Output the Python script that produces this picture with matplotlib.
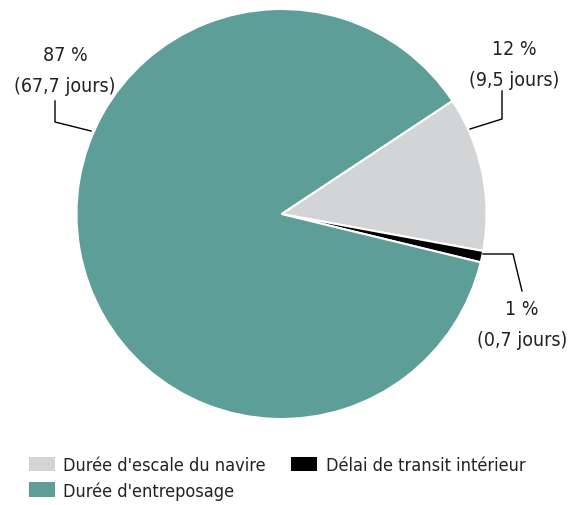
import matplotlib.pyplot as plt
from matplotlib.patches import Patch

plt.rcParams['font.family'] = ['DejaVu Sans']
plt.rcParams['font.stretch'] = 'condensed'

labels = ["Durée d'escale du navire", "Délai de transit intérieur", "Durée d'entreposage"]
jours = [9.5, 0.7, 67.7]
pct_labels = ["12 %\n(9,5 jours)", "1 %\n(0,7 jours)", "87 %\n(67,7 jours)"]
colors = ['#D3D4D6', '#000000', '#5E9E98']

W, H = 574, 506
fig = plt.figure(figsize=(W / 100, H / 100), dpi=100)
ax = fig.add_axes([0, 0, 1, 1])

cx, cy, r = 281.5, H - 215, 205
ax.pie(jours, colors=colors, startangle=33.5, counterclock=False,
       center=(cx, cy), radius=r, frame=True,
       wedgeprops=dict(edgecolor='white', linewidth=1.5))
ax.set_xlim(0, W)
ax.set_ylim(0, H)
ax.set_aspect('equal')
ax.axis('off')

# leader lines (pixel coords, y from top)
lines = [
    [(502, 92), (502, 120), (470, 130)],
    [(483, 255), (513, 255), (522, 292)],
    [(55, 102), (55, 123), (91, 132)],
]
text_pos = [(514, 65), (522, 325), (65, 71)]
for pts, (tx, ty), lab in zip(lines, text_pos, pct_labels):
    ax.plot([p[0] for p in pts], [H - p[1] for p in pts], color='black', lw=1)
    ax.text(tx, H - ty, lab, ha='center', va='center', fontsize=14,
            linespacing=1.75, color='#222222')

handles = [Patch(facecolor=colors[0]), Patch(facecolor=colors[2]), Patch(facecolor=colors[1])]
names = [labels[0], labels[2], labels[1]]
fig.legend(handles, names, loc='upper left', bbox_to_anchor=(29 / W, 1 - 457 / H),
           ncol=2, frameon=False, fontsize=13, handlelength=1.45, handleheight=0.85,
           handletextpad=0.45, columnspacing=1.4, labelspacing=0.4, borderpad=0,
           borderaxespad=0, labelcolor='#222222')

fig.savefig('out.png', dpi=100)
